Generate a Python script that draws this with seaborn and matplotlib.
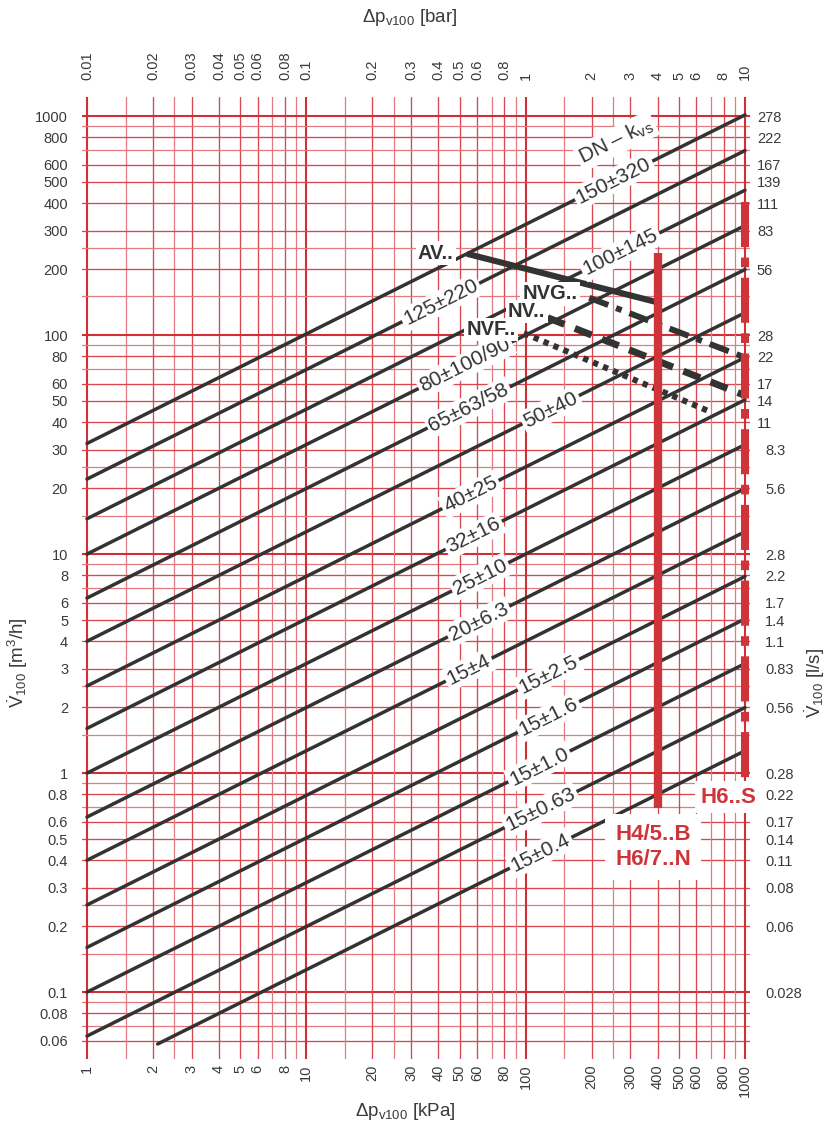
import numpy as np
import pandas as pd
import matplotlib
matplotlib.use("Agg")
import matplotlib.pyplot as plt
import seaborn as sns

# ---------------- data ----------------
kvs_values = [320, 220, 145, 100, 63, 40, 25, 16, 10, 6.3, 4, 2.5, 1.6, 1.0, 0.63, 0.4]
dn_labels = ["150±320", "125±220", "100±145", "80±100/90", "65±63/58", "50±40",
             "40±25", "32±16", "25±10", "20±6.3", "15±4", "15±2.5", "15±1.6",
             "15±1.0", "15±0.63", "15±0.4"]
line_start_kpa = [1, 1, 1, 1, 1, 1, 1, 1, 1, 1, 1, 1, 1, 1, 1, 2.1]
line_end_kpa = [1000] * 16
label_kpa = [252, 41, 271, 53, 55, 130, 56, 58, 62, 61, 55, 127, 127, 115, 117, 117]

av_kpa = [54, 400]
av_flow = [235, 141]
nvg_kpa = [195, 1000]
nvg_flow = [148, 79]
nv_kpa = [126, 1000]
nv_flow = [120, 53]
nvf_kpa = [98, 700]
nvf_flow = [102, 44.5]
h45_kpa = [400, 400]
h45_flow = [0.69, 236]
h6s_kpa = [1000, 1000]
h6s_flow = [405, 0.93]

kpa_ticks = [1, 2, 3, 4, 5, 6, 8, 10, 20, 30, 40, 50, 60, 80, 100, 200, 300, 400,
             500, 600, 800, 1000]
kpa_labels = [str(v) for v in kpa_ticks]
bar_ticks = [0.01, 0.02, 0.03, 0.04, 0.05, 0.06, 0.08, 0.1, 0.2, 0.3, 0.4, 0.5,
             0.6, 0.8, 1, 2, 3, 4, 5, 6, 8, 10]
bar_labels = ["0.01", "0.02", "0.03", "0.04", "0.05", "0.06", "0.08", "0.1", "0.2",
              "0.3", "0.4", "0.5", "0.6", "0.8", "1", "2", "3", "4", "5", "6", "8", "10"]
flow_ticks = [1000, 800, 600, 500, 400, 300, 200, 100, 80, 60, 50, 40, 30, 20, 10,
              8, 6, 5, 4, 3, 2, 1, 0.8, 0.6, 0.5, 0.4, 0.3, 0.2, 0.1, 0.08, 0.06]
flow_labels = ["1000", "800", "600", "500", "400", "300", "200", "100", "80", "60",
               "50", "40", "30", "20", "10", "8", "6", "5", "4", "3", "2", "1", "0.8",
               "0.6", "0.5", "0.4", "0.3", "0.2", "0.1", "0.08", "0.06"]
ls_tick_flow = [1000, 800, 600, 500, 400, 300, 200, 100, 80, 60, 50, 40, 30, 20, 10,
                8, 6, 5, 4, 3, 2, 1, 0.8, 0.6, 0.5, 0.4, 0.3, 0.2, 0.1]
ls_labels = ["278", "222", "167", "139", "111", "83", "56", "28", "22", "17", "14",
             "11", "8.3", "5.6", "2.8", "2.2", "1.7", "1.4", "1.1", "0.83", "0.56",
             "0.28", "0.22", "0.17", "0.14", "0.11", "0.08", "0.06", "0.028"]

# ---------------- style ----------------
sns.set_theme(style="white")
plt.rcParams["font.family"] = ["Liberation Sans", "DejaVu Sans"]
plt.rcParams["mathtext.fontset"] = "custom"
plt.rcParams["mathtext.rm"] = "Liberation Sans"
plt.rcParams["mathtext.it"] = "Liberation Sans"
plt.rcParams["mathtext.bf"] = "Liberation Sans:bold"

DARK = "#333333"
RED = "#d0343b"
TXT = "#3a3a3a"

W, H = 828, 1129
fig = plt.figure(figsize=(W / 100, H / 100), dpi=100)
ax_l, ax_r, ax_t, ax_b = 82, 750, 97, 1059
ax = fig.add_axes([ax_l / W, 1 - ax_b / H, (ax_r - ax_l) / W, (ax_b - ax_t) / H])
ax.set_xscale("log")
ax.set_yscale("log")
xlim = (10 ** (-5 / 219.33), 10 ** (3 + 5 / 219.33))
ylim = (0.0495, 10 ** (3 + 19 / 218.5))
ax.set_xlim(*xlim)
ax.set_ylim(*ylim)
for s in ax.spines.values():
    s.set_visible(False)

# ---------------- grid ----------------
mults = [1, 1.5, 2, 2.5, 3, 4, 5, 6, 7, 8, 9]
light = {1.5, 2.5, 7, 9}
for k in range(-2, 4):
    for m in mults:
        v = m * 10 ** k
        if m == 1:
            col, lw = "#d22e36", 1.5
        elif m in light:
            col, lw = "#e27a7f", 0.9
        else:
            col, lw = "#d9474e", 0.95
        if 0.99 <= v <= 1001:
            ax.axvline(v, color=col, lw=lw, zorder=1)
        if 0.059 <= v <= 1001:
            ax.axhline(v, color=col, lw=lw, zorder=1)

# ---------------- kvs lines ----------------
rows = []
for kv, lab, x0, x1 in zip(kvs_values, dn_labels, line_start_kpa, line_end_kpa):
    for x in (x0, x1):
        rows.append({"line": lab, "kPa": x, "flow": kv * np.sqrt(x / 100.0)})
df = pd.DataFrame(rows)
sns.lineplot(data=df, x="kPa", y="flow", units="line", estimator=None, sort=False,
             color=DARK, lw=2.5, ax=ax, zorder=2, legend=False)

# rotation of sqrt lines on screen
p1 = ax.transData.transform((1, 1))
p2 = ax.transData.transform((100, 10))
ang = np.degrees(np.arctan2(p2[1] - p1[1], p2[0] - p1[0]))

box = dict(boxstyle="square,pad=0.12", fc="white", ec="none")
for kv, lab, xl in zip(kvs_values, dn_labels, label_kpa):
    ax.text(xl, kv * np.sqrt(xl / 100.0), lab, rotation=ang, rotation_mode="anchor",
            ha="center", va="center", fontsize=15, color=DARK, bbox=box, zorder=6)
ax.text(258, 769, "DN – k$_{\\mathrm{vs}}$", rotation=ang, rotation_mode="anchor",
        ha="center", va="center", fontsize=15, color=DARK, bbox=box, zorder=6)

# ---------------- special lines ----------------
def seg(xs, ys, **kw):
    d = pd.DataFrame({"kPa": xs, "flow": ys})
    sns.lineplot(data=d, x="kPa", y="flow", sort=False, estimator=None, ax=ax,
                 legend=False, **kw)

seg(av_kpa, av_flow, color=DARK, lw=4.4, zorder=4, solid_capstyle="butt")
seg(nvg_kpa, nvg_flow, color=DARK, lw=4.3, zorder=4,
    linestyle=(0, (3.4, 1.4, 1.0, 1.4)), dash_capstyle="butt")
seg(nv_kpa, nv_flow, color=DARK, lw=5.0, zorder=4,
    linestyle=(0, (2.6, 1.6)), dash_capstyle="butt")
seg(nvf_kpa, nvf_flow, color=DARK, lw=4.3, zorder=4,
    linestyle=(0, (0.9, 0.9)), dash_capstyle="butt")
seg(h45_kpa, h45_flow, color=RED, lw=6.0, zorder=5, solid_capstyle="butt")
seg(h6s_kpa, h6s_flow, color=RED, lw=5.8, zorder=5,
    linestyle=(0, (5.6, 1.3, 1.2, 1.3)), dash_capstyle="butt")

tb = dict(boxstyle="square,pad=0.12", fc="white", ec="none")
ax.text(47, 236, "AV..", ha="right", va="center", fontsize=14.5, fontweight="bold",
        color=DARK, bbox=tb, zorder=6)
ax.text(129, 154, "NVG..", ha="center", va="center", fontsize=14.5, fontweight="bold",
        color=DARK, bbox=tb, zorder=6)
ax.text(101, 128, "NV..", ha="center", va="center", fontsize=14.5, fontweight="bold",
        color=DARK, bbox=tb, zorder=6)
ax.text(69.5, 106, "NVF..", ha="center", va="center", fontsize=14.5, fontweight="bold",
        color=DARK, bbox=tb, zorder=6)
ax.text(837, 0.777, "H6..S", ha="center", va="center", fontsize=16, fontweight="bold",
        color=RED, bbox=dict(boxstyle="square,pad=0.25", fc="white", ec="none"), zorder=7)
ax.text(381, 0.458, "H4/5..B\nH6/7..N", ha="center", va="center", fontsize=16,
        fontweight="bold", color=RED, linespacing=1.25,
        bbox=dict(boxstyle="square,pad=0.45", fc="white", ec="none"), zorder=7)

# ---------------- ticks ----------------
ax.set_xticks(kpa_ticks, labels=kpa_labels, rotation=90)
ax.set_yticks(flow_ticks, labels=flow_labels)
ax.minorticks_off()
ax.tick_params(axis="x", length=0, pad=4, labelsize=10.5, labelcolor=TXT)
ax.tick_params(axis="y", length=0, pad=10, labelsize=10.5, labelcolor=TXT)
ax.set_xlabel("")
ax.set_ylabel("")

axt = ax.twiny()
axt.set_xscale("log")
axt.set_xlim(*xlim)
axt.set_xticks([b * 100 for b in bar_ticks], labels=bar_labels, rotation=90)
axt.minorticks_off()
axt.tick_params(axis="x", length=0, pad=12, labelsize=10.5, labelcolor=TXT)

axr = ax.twinx()
axr.set_yscale("log")
axr.set_ylim(*ylim)
axr.set_yticks(ls_tick_flow, labels=ls_labels)
axr.minorticks_off()
axr.tick_params(axis="y", length=0, pad=5, labelsize=10.5, labelcolor=TXT)
for t, lab in zip(axr.yaxis.get_major_ticks(), ls_labels):
    if "." in lab:
        t.set_pad(11)
for a in (axt, axr):
    for s in a.spines.values():
        s.set_visible(False)

# ---------------- axis titles ----------------
fig.text(410 / W, 1 - 18 / H, "Δp$_{\\mathrm{v100}}$ [bar]", ha="center", va="center",
         fontsize=13.5, color=TXT)
fig.text(405 / W, 1 - 1112 / H, "Δp$_{\\mathrm{v100}}$ [kPa]", ha="center", va="center",
         fontsize=13.5, color=TXT)
fig.text(18 / W, 1 - 663 / H, "$\\dot{\\mathrm{V}}_{\\mathrm{100}}$ [m$^{\\mathrm{3}}$/h]",
         ha="center", va="center", rotation=90, fontsize=13.5, color=TXT)
fig.text(815 / W, 1 - 683 / H, "$\\dot{\\mathrm{V}}_{\\mathrm{100}}$ [l/s]",
         ha="center", va="center", rotation=90, fontsize=13.5, color=TXT)

fig.savefig("out.png", dpi=100, facecolor="white")
